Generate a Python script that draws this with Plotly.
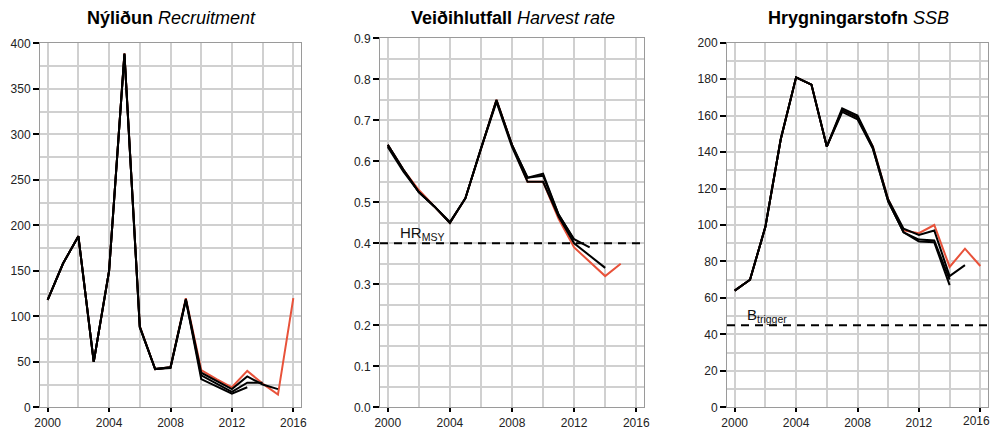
import plotly.graph_objects as go

years = list(range(2000, 2017))

# Recruitment (assessment year retrospectives)
rec_2016 = [118, 158, 188, 50, 150, 389, 89, 42, 44, 120, 41, 31, 22, 40, 26, 14, 120]
rec_2015 = [118, 158, 188, 50, 150, 389, 89, 42, 44, 119, 38, 29, 20, 34, 25, 20]
rec_2014 = [118, 158, 188, 50, 150, 388, 88, 42, 44, 118, 35, 26, 17, 27, 27]
rec_2013 = [118, 158, 188, 50, 150, 388, 88, 42, 43, 118, 31, 23, 15, 22]

# Harvest rate
hr_2016 = [0.64, 0.58, 0.53, 0.49, 0.45, 0.51, 0.63, 0.75, 0.64, 0.55, 0.55, 0.46, 0.39, 0.355, 0.32, 0.35]
hr_2015 = [0.64, 0.58, 0.525, 0.49, 0.45, 0.51, 0.63, 0.745, 0.635, 0.55, 0.55, 0.465, 0.40, 0.37, 0.34]
hr_2014 = [0.64, 0.58, 0.525, 0.49, 0.45, 0.51, 0.63, 0.75, 0.64, 0.56, 0.57, 0.47, 0.41, 0.39]
hr_2013 = [0.635, 0.575, 0.525, 0.49, 0.452, 0.51, 0.632, 0.748, 0.64, 0.56, 0.565, 0.47, 0.408]

# SSB
ssb_2016 = [64, 70, 99, 147, 181, 177, 143, 163, 159, 143, 114, 97, 95.5, 100, 77, 87, 77.5]
ssb_2015 = [64, 70, 99, 147, 181, 177, 143, 164, 160, 143, 114, 98, 94.5, 97, 72, 78]
ssb_2014 = [64, 70, 99, 147, 181, 177, 143, 163, 159, 142, 113, 96, 92, 91.5, 70]
ssb_2013 = [64, 70, 99, 147, 181, 177, 143, 162, 158, 142, 113, 96, 91, 90.5, 67]

HR_MSY = 0.4
B_TRIGGER = 45

titles = ["<b>Nýliðun</b> <i>Recruitment</i>",
          "<b>Veiðihlutfall</b> <i>Harvest rate</i>",
          "<b>Hrygningarstofn</b> <i>SSB</i>"]
xticks = [2000, 2004, 2008, 2012, 2016]

RED = "#e8523a"
BLACK = "#000000"
GRID = "#d0d0d0"
W, H = 992, 431
FONT = "Liberation Sans, Arial, sans-serif"

fig = go.Figure()

panels = [
    ("x", "y", [rec_2016, rec_2015, rec_2014, rec_2013]),
    ("x2", "y2", [hr_2016, hr_2015, hr_2014, hr_2013]),
    ("x3", "y3", [ssb_2016, ssb_2015, ssb_2014, ssb_2013]),
]
for xa, ya, series in panels:
    for i, s in enumerate(series):
        fig.add_trace(go.Scatter(
            x=years[:len(s)], y=s, mode="lines", xaxis=xa, yaxis=ya,
            line=dict(color=RED if i == 0 else BLACK, width=2),
            showlegend=False, hoverinfo="skip"))

# pixel geometry of the three panels
geo = [
    (40, 301, 43.3, 407.3),
    (380, 644, 38.3, 407.3),
    (727, 988, 42.7, 407.3),
]
yconf = [
    dict(range=[0, 400], dtick=50, minor_dtick=25, fmt=None),
    dict(range=[0, 0.9], dtick=0.1, minor_dtick=0.05, fmt=".1f"),
    dict(range=[0, 200], dtick=20, minor_dtick=10, fmt=None),
]
tickfont = dict(family=FONT, size=12, color="#222222")

layout = dict(
    width=W, height=H, margin=dict(l=0, r=0, t=0, b=0, autoexpand=False),
    paper_bgcolor="white", plot_bgcolor="white", showlegend=False,
)
for k, ((x0, x1, ytop, ybot), yc) in enumerate(zip(geo, yconf)):
    sfx = "" if k == 0 else str(k + 1)
    ticktext = [str(v) for v in xticks]
    if k == 2:
        ticktext[-1] = ""  # drawn separately: it overhangs the page edge
    layout["xaxis" + sfx] = dict(
        domain=[x0 / W, x1 / W], anchor="y" + sfx, range=[1999.5, 2016.5],
        tickvals=xticks, ticktext=ticktext, showgrid=True, gridcolor=GRID, gridwidth=2,
        minor=dict(tick0=2000, dtick=2, showgrid=True, gridcolor=GRID, gridwidth=2),
        zeroline=False, showline=True, mirror=True, linecolor="#9a9a9a", linewidth=1,
        ticks="outside", ticklen=4, tickwidth=2, tickcolor="black", tickfont=tickfont,
        automargin=False,
    )
    yax = dict(
        domain=[(H - ybot) / H, (H - ytop) / H], anchor="x" + sfx, range=yc["range"],
        tick0=0, dtick=yc["dtick"], showgrid=True, gridcolor=GRID, gridwidth=2,
        minor=dict(tick0=0, dtick=yc["minor_dtick"], showgrid=True, gridcolor=GRID, gridwidth=2),
        zeroline=False, showline=True, mirror=True, linecolor="#9a9a9a", linewidth=1,
        ticks="outside", ticklen=6, tickwidth=2, tickcolor="black", tickfont=tickfont,
        automargin=False,
    )
    if yc["fmt"]:
        yax["tickformat"] = yc["fmt"]
    layout["yaxis" + sfx] = yax

fig.update_layout(**layout)

# last tick label of the SSB panel (kept inside the page edge)
fig.add_annotation(x=1.0, y=(H - 421) / H, xref="paper", yref="paper", text=str(xticks[-1]),
                   showarrow=False, xanchor="right", yanchor="middle", font=tickfont)

# reference lines
fig.add_shape(type="line", xref="x2 domain", yref="y2", x0=0, x1=1, y0=HR_MSY, y1=HR_MSY,
              line=dict(color="black", width=2, dash="8px,6px"))
fig.add_shape(type="line", xref="x3 domain", yref="y3", x0=0, x1=1, y0=B_TRIGGER, y1=B_TRIGGER,
              line=dict(color="black", width=2, dash="8px,6px"))

lblfont = dict(family=FONT, size=15, color="#111111")
fig.add_annotation(x=2000.65, y=HR_MSY, xref="x2", yref="y2", text="HR<sub>MSY</sub>",
                   showarrow=False, xanchor="left", yanchor="bottom", yshift=-2, font=lblfont)
fig.add_annotation(x=2000.7, y=B_TRIGGER, xref="x3", yref="y3", text="B<sub>trigger</sub>",
                   showarrow=False, xanchor="left", yanchor="bottom", yshift=-2, font=lblfont)

# titles
title_x = [171, 512.5, 858]
for t, cx in zip(titles, title_x):
    fig.add_annotation(x=cx / W, y=1 - 18 / H, xref="paper", yref="paper", text=t,
                       showarrow=False, xanchor="center", yanchor="middle",
                       font=dict(family=FONT, size=18, color="black"))

fig.write_html("out.html")
